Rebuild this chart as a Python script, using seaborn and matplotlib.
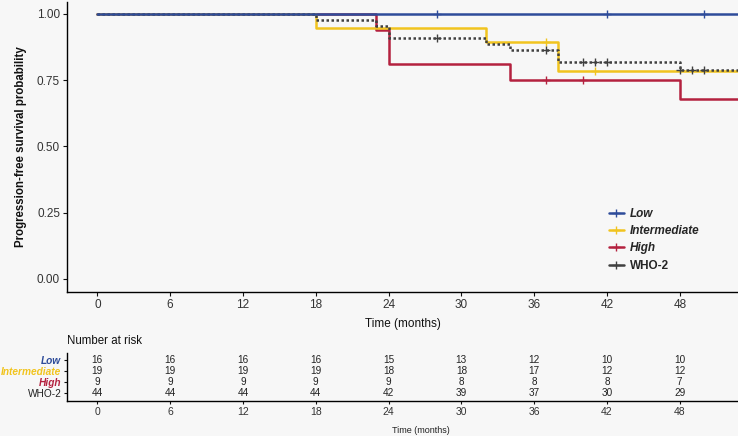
import numpy as np
import pandas as pd
import seaborn as sns
import matplotlib.pyplot as plt
from matplotlib.lines import Line2D

groups = ['Low', 'Intermediate', 'High', 'WHO-2']
colors = ['#2E4C9A', '#F1C41F', '#B4213F', '#404040']

# step curves (time of change, survival after change)
low_t = [0, 52.8]
low_s = [1.0, 1.0]
int_t = [0, 18, 32, 38, 52.8]
int_s = [1.0, 0.947, 0.895, 0.785, 0.785]
high_t = [0, 23, 24, 34, 48, 52.8]
high_s = [1.0, 0.9375, 0.8125, 0.75, 0.68, 0.68]
who_t = [0, 18, 23, 24, 32, 34, 38, 48, 52.8]
who_s = [1.0, 0.977, 0.955, 0.909, 0.887, 0.864, 0.818, 0.788, 0.788]

# censoring times
low_c = [28, 42, 50]
int_c = [37, 41]
high_c = [37, 40]
who_c = [28, 37, 40, 41, 42, 48, 49, 50]

# number at risk
risk_times = [0, 6, 12, 18, 24, 30, 36, 42, 48]
risk_low = [16, 16, 16, 16, 15, 13, 12, 10, 10]
risk_int = [19, 19, 19, 19, 18, 18, 17, 12, 12]
risk_high = [9, 9, 9, 9, 9, 8, 8, 8, 7]
risk_who = [44, 44, 44, 44, 42, 39, 37, 30, 29]

curves = {'Low': (low_t, low_s, low_c), 'Intermediate': (int_t, int_s, int_c),
          'High': (high_t, high_s, high_c), 'WHO-2': (who_t, who_s, who_c)}
risk = {'Low': risk_low, 'Intermediate': risk_int, 'High': risk_high, 'WHO-2': risk_who}
pal = dict(zip(groups, colors))

bg = '#F7F7F7'
sns.set_theme(style='ticks')
plt.rcParams['font.family'] = ['Liberation Sans', 'DejaVu Sans']

fig = plt.figure(figsize=(7.38, 4.36), dpi=100, facecolor=bg)
ax = fig.add_axes([67/738, 1-292/436, 671/738, 290/436], facecolor=bg)
ax2 = fig.add_axes([67/738, 1-401/436, 671/738, 48/436], facecolor=bg)

xlim = (-2.5, 52.8)

# draw order: High, Intermediate, WHO-2, Low on top
for g in ['High', 'Intermediate', 'WHO-2', 'Low']:
    t, s, c = curves[g]
    df = pd.DataFrame({'time': t, 'surv': s})
    ls = (0, (1, 1)) if g == 'WHO-2' else '-'
    sns.lineplot(data=df, x='time', y='surv', ax=ax, color=pal[g], lw=1.8,
                 drawstyle='steps-post', estimator=None, linestyle=ls)
    idx = np.searchsorted(t, c, side='right') - 1
    cdf = pd.DataFrame({'time': c, 'surv': np.array(s)[idx]})
    ax.plot(cdf['time'], cdf['surv'], ls='none', marker='+', color=pal[g],
            ms=6, mew=1.0)

ax.set_xlim(*xlim)
ax.set_ylim(-0.05, 1.045)
ax.set_xticks(risk_times)
ax.set_yticks([0, 0.25, 0.5, 0.75, 1.0])
ax.set_yticklabels(['0.00', '0.25', '0.50', '0.75', '1.00'])
ax.tick_params(axis='both', length=3, width=0.8, labelsize=8.5, pad=2,
               colors='#111111', labelcolor='#333333')
for sp in ['top', 'right']:
    ax.spines[sp].set_visible(False)
for sp in ['left', 'bottom']:
    ax.spines[sp].set_linewidth(1.0)
    ax.spines[sp].set_color('black')
ax.set_xlabel('Time (months)', fontsize=8.5, labelpad=5, color='#111111')
ax.set_ylabel('Progression-free survival probability', fontsize=8.3,
              fontweight='bold', color='#111111')
ax.yaxis.set_label_coords(-0.06, 0.5)

handles = [Line2D([], [], color=pal[g], lw=1.8, marker='+', ms=6, mew=1.0)
           for g in groups]
leg = ax.legend(handles, groups, loc='upper left', frameon=False,
                bbox_to_anchor=(604/738, 1-203/436), bbox_transform=fig.transFigure,
                prop={'size': 8.5, 'weight': 'bold'}, handlelength=1.3,
                handletextpad=0.5, labelspacing=0.45, borderaxespad=0)
for txt in leg.get_texts()[:3]:
    txt.set_style('italic')

# risk table
for i, g in enumerate(groups):
    row = 4 - i
    for t, n in zip(risk_times, risk[g]):
        ax2.text(t, row, str(n), ha='center', va='center', fontsize=7.2, color='#222222')
ax2.set_xlim(*xlim)
ax2.set_ylim(0.27, 4.64)
ax2.set_xticks(risk_times)
ax2.set_yticks([4, 3, 2, 1])
ax2.set_yticklabels(groups)
ax2.tick_params(axis='both', length=2.5, width=0.8, labelsize=7.3, pad=1.5,
                colors='#111111', labelcolor='#333333')
ax2.tick_params(axis='x', labelsize=7.5)
for lab, g in zip(ax2.get_yticklabels(), groups):
    lab.set_color(pal[g] if g != 'WHO-2' else '#222222')
    if g != 'WHO-2':
        lab.set_fontweight('bold')
        lab.set_style('italic')
for sp in ['top', 'right']:
    ax2.spines[sp].set_visible(False)
for sp in ['left', 'bottom']:
    ax2.spines[sp].set_linewidth(1.0)
    ax2.spines[sp].set_color('black')
ax2.set_xlabel('Time (months)', fontsize=6.5, labelpad=4, color='#222222')
ax2.xaxis.set_label_coords((421-67)/671, -0.52)
fig.text(67/738, 1-341/436, 'Number at risk', fontsize=8.3, va='center',
         ha='left', color='#111111')

fig.savefig('out.png', dpi=100, facecolor=bg)
